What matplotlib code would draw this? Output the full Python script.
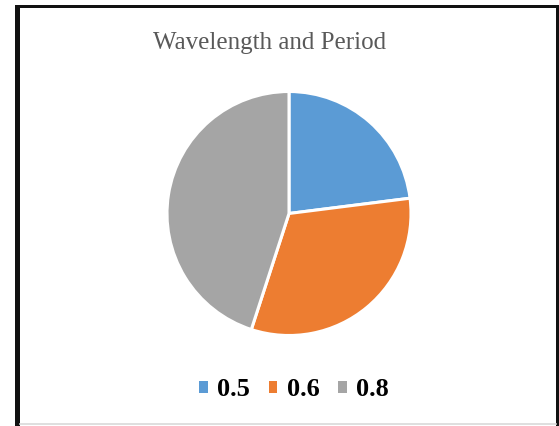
import matplotlib
matplotlib.use("Agg")
import matplotlib.pyplot as plt
from matplotlib.patches import Rectangle
from matplotlib.lines import Line2D

categories = ["0.5", "0.6", "0.8"]
values = [23, 32, 45]
colors = ["#5B9BD5", "#ED7D31", "#A5A5A5"]
title = "Wavelength and Period"

W, H = 559, 426
fig = plt.figure(figsize=(W / 100, H / 100), dpi=100)
fig.patch.set_facecolor("white")

def fx(x):
    return x / W

def fy(y):
    return 1 - y / H

# pie axes: center (289, 213.5), radius ~122
r = 122
ax = fig.add_axes([fx(289 - r), fy(213.5 + r), 2 * r / W, 2 * r / H])
wedges, _ = ax.pie(values, colors=colors, startangle=90, counterclock=False,
                   radius=1.0,
                   wedgeprops=dict(edgecolor="white", linewidth=2.2))
ax.set_xlim(-1, 1)
ax.set_ylim(-1, 1)
ax.set_aspect("auto")
ax.axis("off")

# title
fig.text(fx(270), fy(43), title, ha="center", va="center",
         fontsize=18, color="#595959", family="Liberation Serif")

# legend
handles = [Rectangle((0, 0), 1, 1, facecolor=c, edgecolor="none") for c in colors]
leg = fig.legend(handles, categories, loc="center", bbox_to_anchor=(fx(294), fy(390)),
                 ncol=3, frameon=False, handlelength=0.32, handleheight=0.32,
                 handletextpad=0.35, columnspacing=0.72,
                 prop=dict(family="Liberation Serif", weight="bold", size=19))

# border lines
fig.add_artist(Rectangle((fx(15), 0), 5 / W, fy(5), transform=fig.transFigure,
                         facecolor="#111111", edgecolor="none"))
fig.add_artist(Rectangle((fx(15), fy(8)), (W - 15) / W, 3 / H, transform=fig.transFigure,
                         facecolor="#111111", edgecolor="none"))
fig.add_artist(Rectangle((fx(556), 0), 3 / W, fy(5), transform=fig.transFigure,
                         facecolor="#111111", edgecolor="none"))
fig.add_artist(Line2D([fx(20), fx(556)], [fy(424), fy(424)], transform=fig.transFigure,
                      color="#D9D9D9", linewidth=1.2))

fig.savefig("out.png", dpi=100, facecolor="white")
